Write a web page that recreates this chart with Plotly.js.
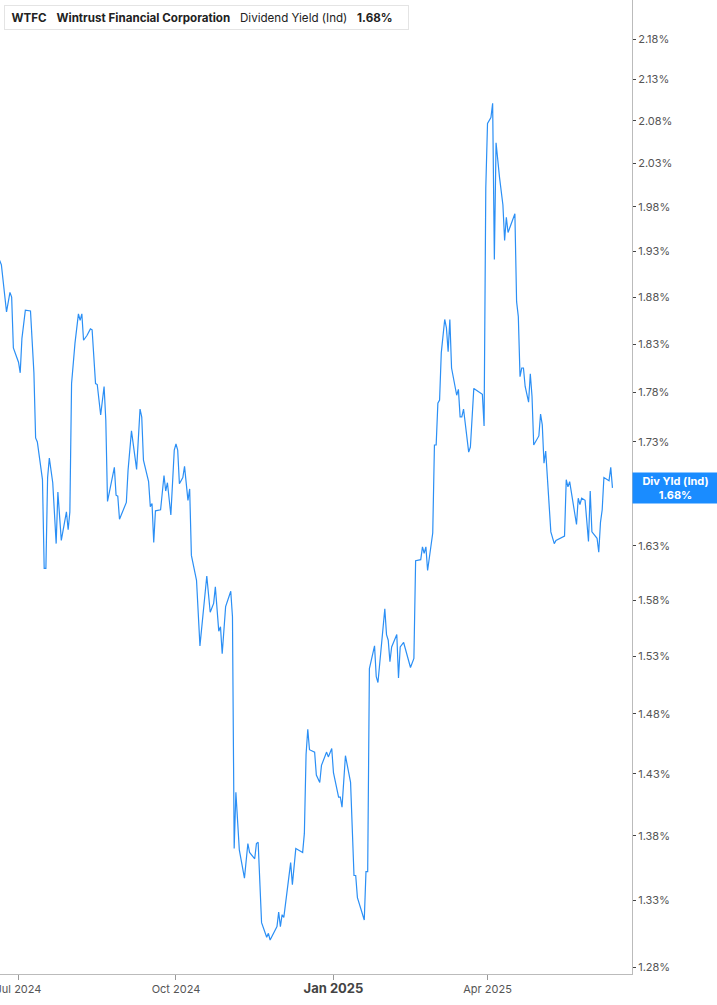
<!DOCTYPE html>
<html>
<head>
<meta charset="utf-8">
<script src="https://cdn.plot.ly/plotly-3.0.1.min.js"></script>
<style>
  html, body { margin: 0; padding: 0; background: #ffffff; }
  #chart { width: 717px; height: 1005px; }
</style>
</head>
<body>
<div id="chart"></div>
<script>
const dates = [
'2024-06-20','2024-06-21','2024-06-24','2024-06-26','2024-06-27','2024-06-28','2024-07-01','2024-07-02','2024-07-03','2024-07-05',
'2024-07-08','2024-07-10','2024-07-11','2024-07-12','2024-07-15','2024-07-16','2024-07-17','2024-07-18','2024-07-19','2024-07-21',
'2024-07-23','2024-07-24','2024-07-26','2024-07-29','2024-07-30','2024-07-31','2024-08-01','2024-08-03','2024-08-05','2024-08-06',
'2024-08-07','2024-08-08','2024-08-10','2024-08-12','2024-08-13','2024-08-15','2024-08-16','2024-08-18','2024-08-20','2024-08-21',
'2024-08-22','2024-08-24','2024-08-26','2024-08-27','2024-08-28','2024-08-29','2024-09-02','2024-09-03','2024-09-05','2024-09-08',
'2024-09-10','2024-09-11','2024-09-12','2024-09-15','2024-09-16','2024-09-17','2024-09-18','2024-09-19','2024-09-22','2024-09-24',
'2024-09-25','2024-09-26','2024-09-28','2024-09-30','2024-10-01','2024-10-02','2024-10-03','2024-10-05','2024-10-06','2024-10-08',
'2024-10-09','2024-10-10','2024-10-13','2024-10-15','2024-10-17','2024-10-19','2024-10-21','2024-10-23','2024-10-24','2024-10-26',
'2024-10-27','2024-10-28','2024-10-30','2024-11-02','2024-11-03','2024-11-04','2024-11-05','2024-11-06','2024-11-07','2024-11-10',
'2024-11-12','2024-11-13','2024-11-16','2024-11-17','2024-11-18','2024-11-20','2024-11-23','2024-11-24','2024-11-25','2024-11-29',
'2024-11-30','2024-12-01','2024-12-02','2024-12-03','2024-12-06','2024-12-07','2024-12-08','2024-12-10','2024-12-14','2024-12-15',
'2024-12-16','2024-12-17','2024-12-18','2024-12-21','2024-12-22','2024-12-24','2024-12-25','2024-12-28','2024-12-29','2024-12-31',
'2025-01-01','2025-01-04','2025-01-05','2025-01-06','2025-01-08','2025-01-11','2025-01-13','2025-01-14','2025-01-15','2025-01-19',
'2025-01-20','2025-01-21','2025-01-22','2025-01-25','2025-01-26','2025-01-27','2025-01-31','2025-02-01','2025-02-02','2025-02-03',
'2025-02-04','2025-02-07','2025-02-08','2025-02-09','2025-02-11','2025-02-15','2025-02-17','2025-02-18','2025-02-21','2025-02-22',
'2025-02-23','2025-02-24','2025-02-25','2025-02-28','2025-03-01','2025-03-02','2025-03-03','2025-03-04','2025-03-05','2025-03-07',
'2025-03-08','2025-03-09','2025-03-10','2025-03-11','2025-03-14','2025-03-15','2025-03-16','2025-03-17','2025-03-18','2025-03-21',
'2025-03-22','2025-03-24','2025-03-29','2025-03-30','2025-03-31','2025-04-01','2025-04-03','2025-04-04','2025-04-05','2025-04-06',
'2025-04-08','2025-04-10','2025-04-11','2025-04-12','2025-04-13','2025-04-17','2025-04-18','2025-04-19','2025-04-20','2025-04-21',
'2025-04-22','2025-04-23','2025-04-25','2025-04-26','2025-04-27','2025-04-28','2025-05-01','2025-05-02','2025-05-03','2025-05-04',
'2025-05-05','2025-05-08','2025-05-10','2025-05-11','2025-05-16','2025-05-17','2025-05-18','2025-05-19','2025-05-23','2025-05-24',
'2025-05-25','2025-05-26','2025-05-28','2025-05-30','2025-05-31','2025-06-01','2025-06-04','2025-06-05','2025-06-06','2025-06-07',
'2025-06-08','2025-06-11','2025-06-12','2025-06-13'
];

const divYield = [
1.920,1.915,1.864,1.885,1.880,1.826,1.811,1.800,1.836,1.866,
1.865,1.800,1.734,1.730,1.693,1.609,1.609,1.695,1.714,1.690,
1.632,1.681,1.635,1.662,1.645,1.662,1.789,1.831,1.862,1.855,
1.862,1.834,1.839,1.846,1.845,1.789,1.788,1.757,1.786,1.752,
1.672,1.690,1.705,1.678,1.677,1.655,1.671,1.702,1.741,1.703,
1.763,1.755,1.712,1.691,1.667,1.670,1.633,1.663,1.664,1.697,
1.682,1.690,1.659,1.722,1.728,1.722,1.689,1.695,1.706,1.673,
1.684,1.621,1.598,1.539,1.568,1.602,1.569,1.577,1.592,1.552,
1.556,1.532,1.574,1.588,1.565,1.370,1.415,1.393,1.369,1.347,
1.374,1.367,1.362,1.374,1.375,1.313,1.302,1.305,1.300,1.310,
1.321,1.310,1.319,1.317,1.351,1.359,1.342,1.370,1.367,1.382,
1.446,1.467,1.450,1.448,1.429,1.423,1.437,1.448,1.444,1.451,
1.431,1.411,1.411,1.403,1.445,1.423,1.349,1.349,1.332,1.315,
1.352,1.352,1.519,1.539,1.512,1.507,1.572,1.549,1.544,1.525,
1.538,1.549,1.511,1.538,1.542,1.520,1.528,1.616,1.617,1.629,
1.623,1.629,1.607,1.642,1.727,1.727,1.769,1.772,1.821,1.856,
1.847,1.822,1.856,1.805,1.777,1.783,1.755,1.755,1.763,1.720,
1.725,1.784,1.778,1.746,2.001,2.077,2.084,2.101,1.921,2.054,
2.014,1.982,1.942,1.968,1.951,1.972,1.875,1.859,1.796,1.805,
1.805,1.786,1.770,1.799,1.776,1.727,1.736,1.758,1.747,1.709,
1.721,1.643,1.632,1.635,1.639,1.693,1.686,1.691,1.650,1.675,
1.669,1.675,1.673,1.634,1.682,1.643,1.637,1.624,1.652,1.664,
1.695,1.692,1.705,1.685
];

const yTickValues = [1.28,1.33,1.38,1.43,1.48,1.53,1.58,1.63,1.68,1.73,1.78,1.83,1.88,1.93,1.98,2.03,2.08,2.13,2.18];
const xTickDates = ['2024-07-01','2024-10-01','2025-01-01','2025-04-01'];
const xTickLabels = ['Jul 2024','Oct 2024','Jan 2025','Apr 2025'];
const ticker = 'WTFC';
const company = 'Wintrust Financial Corporation';
const metric = 'Dividend Yield (Ind)';
const shortMetric = 'Div Yld (Ind)';
const lastLabel = '1.68%';

const blue = '#1a8cff';
const NB = '\u00A0';
const gap = NB + NB + NB;

const trace = {
  x: dates,
  y: divYield,
  type: 'scatter',
  mode: 'lines',
  line: { color: '#2b8ff5', width: 1.2 },
  hoverinfo: 'skip'
};

const xTickText = xTickLabels.map(t => t.startsWith('Jan')
  ? '<span style="font-size:13px;color:#444"><b>' + t + '</b></span>' : t);

const layout = {
  width: 717,
  height: 1005,
  margin: { l: 0, r: 85, t: 0, b: 31 },
  paper_bgcolor: '#ffffff',
  plot_bgcolor: '#ffffff',
  showlegend: false,
  font: { family: 'Inter, "Open Sans", sans-serif', size: 11, color: '#555' },
  xaxis: {
    type: 'date',
    range: ['2024-06-20 04:30', '2025-06-24 10:00'],
    tickvals: xTickDates,
    ticktext: xTickText,
    ticks: 'outside',
    ticklen: 5,
    tickcolor: '#999',
    tickfont: { size: 11, color: '#555' },
    showgrid: false,
    zeroline: false,
    showline: true,
    linecolor: '#bbb',
    linewidth: 1,
    ticklabeloverflow: 'allow',
    fixedrange: true
  },
  yaxis: {
    type: 'log',
    side: 'right',
    range: [0.10547, 0.34818],
    tickvals: yTickValues,
    ticktext: yTickValues.map(v => v.toFixed(2) + '%'),
    ticks: 'outside',
    ticklen: 3,
    tickcolor: '#444',
    tickfont: { size: 11, color: '#555' },
    showgrid: false,
    zeroline: false,
    showline: true,
    linecolor: '#bbb',
    linewidth: 1,
    ticklabeloverflow: 'allow',
    fixedrange: true
  },
  annotations: [
    {
      xref: 'paper', yref: 'paper',
      x: 4 / 632, y: 1 - 5 / 974,
      xanchor: 'left', yanchor: 'top',
      width: 403, height: 23,
      align: 'left',
      showarrow: false,
      bgcolor: '#ffffff',
      bordercolor: '#e4e4e4',
      borderwidth: 1,
      borderpad: 0,
      font: { family: 'Inter, sans-serif', size: 11.6, color: '#222' },
      text: NB + NB + '<b>' + ticker + '</b>' + gap + '<b>' + company + '</b>' + gap + metric + gap + '<b>' + lastLabel + '</b>'
    },
    {
      xref: 'paper', yref: 'y',
      x: 1, y: Math.log10(divYield[divYield.length - 1]),
      xanchor: 'left', yanchor: 'middle',
      width: 85, height: 30,
      showarrow: false,
      bgcolor: blue,
      borderpad: 0,
      align: 'center',
      font: { family: 'Inter, sans-serif', size: 11, color: '#ffffff' },
      text: '<b>' + shortMetric + '</b><br><b>' + lastLabel + '</b>'
    }
  ],
  shapes: [
    {
      type: 'rect', xref: 'paper', yref: 'paper',
      x0: 4 / 632, x1: 7 / 632,
      y0: 1 - 30 / 974, y1: 1 - 5 / 974,
      fillcolor: blue, line: { width: 0 },
      layer: 'above'
    }
  ]
};

Plotly.newPlot('chart', [trace], layout, { displayModeBar: false, staticPlot: true });
</script>
</body>
</html>
